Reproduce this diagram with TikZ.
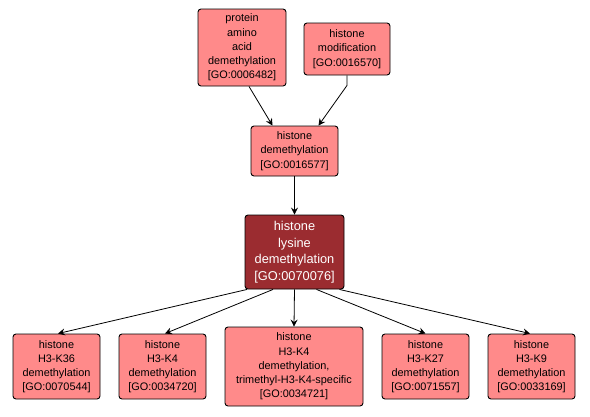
\documentclass[tikz,border=0pt]{standalone}
\usepackage{fontspec}
\setmainfont{Liberation Sans}
\usetikzlibrary{arrows.meta}
\definecolor{lightnode}{RGB}{255,138,138}
\definecolor{darknode}{RGB}{155,44,48}
\begin{document}
\begin{tikzpicture}[x=1pt,y=-1pt,
  term/.style={draw=black, line width=0.9pt, rounded corners=3pt, fill=lightnode,
    inner sep=0pt, align=center, font=\fontsize{10.9}{14.2}\selectfont},
  focus/.style={term, fill=darknode, text=white, font=\fontsize{12.8}{16.5}\selectfont},
  arr/.style={draw=black, line width=0.8pt, -{Stealth[length=7pt,width=7pt,inset=2.5pt]}}]
\useasboundingbox (0,0) rectangle (590,416);
\node[term, minimum width=88pt, minimum height=77pt] (prot) at (242,47.5) {protein\\amino\\acid\\demethylation\\{[GO:0006482]}};
\node[term, minimum width=86pt, minimum height=52pt] (hmod) at (347,49) {histone\\modification\\{[GO:0016570]}};
\node[term, minimum width=87pt, minimum height=50pt] (hdem) at (294.5,151) {histone\\demethylation\\{[GO:0016577]}};
\node[focus, minimum width=99pt, minimum height=74pt] (lys) at (294.5,252) {histone\\lysine\\demethylation\\{[GO:0070076]}};
\node[term, minimum width=87pt, minimum height=65pt] (k36) at (56.5,366.5) {histone\\H3-K36\\demethylation\\{[GO:0070544]}};
\node[term, minimum width=87pt, minimum height=65pt] (k4) at (162.5,366.5) {histone\\H3-K4\\demethylation\\{[GO:0034720]}};
\node[term, minimum width=138pt, minimum height=79pt] (k4t) at (294,366.5) {histone\\H3-K4\\demethylation,\\trimethyl-H3-K4-specific\\{[GO:0034721]}};
\node[term, minimum width=87pt, minimum height=65pt] (k27) at (425.5,366.5) {histone\\H3-K27\\demethylation\\{[GO:0071557]}};
\node[term, minimum width=87pt, minimum height=65pt] (k9) at (531.5,366.5) {histone\\H3-K9\\demethylation\\{[GO:0033169]}};
\draw[arr] ([xshift=7pt]prot.south) -- ([xshift=-22pt]hdem.north);
\draw[arr] (hmod.south) -- ++(0,10) -- ([xshift=24pt]hdem.north);
\draw[arr] (hdem.south) -- (lys.north);
\draw[arr] ([xshift=-47.5pt]lys.south) -- ([xshift=1.5pt]k36.north);
\draw[arr] ([xshift=-21.5pt]lys.south) -- ([xshift=2.5pt]k4.north);
\draw[arr] (lys.south) -- (k4t.north);
\draw[arr] ([xshift=22pt]lys.south) -- (k27.north);
\draw[arr] ([xshift=45pt]lys.south) -- ([xshift=-1.5pt]k9.north);
\end{tikzpicture}
\end{document}
